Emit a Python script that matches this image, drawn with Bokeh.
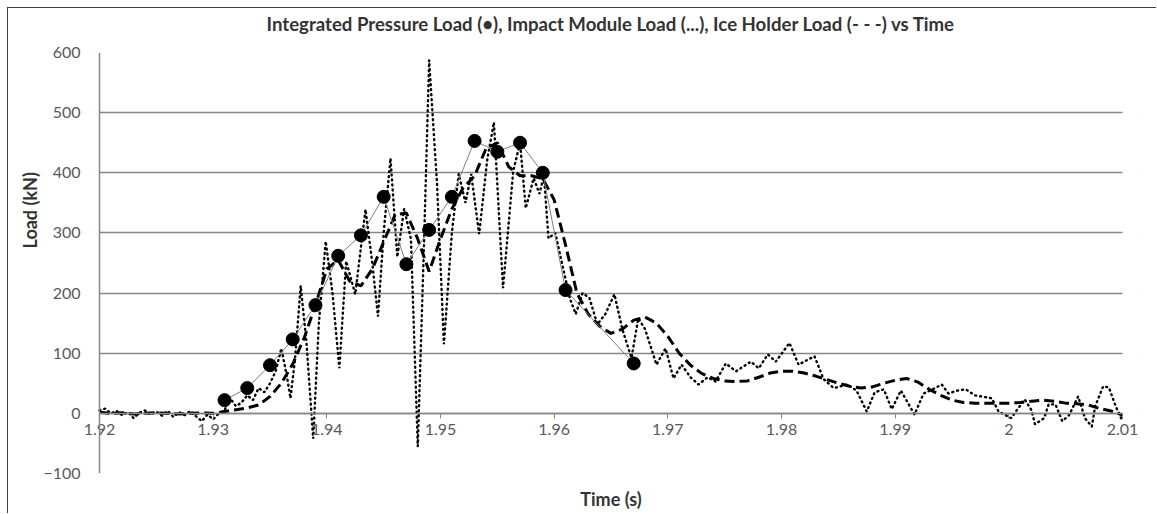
from bokeh.plotting import figure
from bokeh.models import (FixedTicker, CustomJSTickFormatter, Title, Range1d, Span,
                          BoxAnnotation, LinearAxis)
from bokeh.embed import file_html
from bokeh.resources import INLINE

TITLE = "Integrated Pressure Load (\u2022), Impact Module Load (...), Ice Holder Load (- - -) vs Time"
X_LABEL = "Time (s)"
Y_LABEL = "Load (kN)"

x_ticks = [1.92, 1.93, 1.94, 1.95, 1.96, 1.97, 1.98, 1.99, 2.00, 2.01]
y_ticks = [-100, 0, 100, 200, 300, 400, 500, 600]
x_min, x_max = 1.92, 2.01
y_min, y_max = -100, 600

# Integrated pressure load (markers + thin line)
press_t = [1.931, 1.933, 1.935, 1.937, 1.939, 1.941, 1.943, 1.945, 1.947, 1.949,
           1.951, 1.953, 1.955, 1.957, 1.959, 1.961, 1.967]
press_v = [22, 42, 80, 123, 180, 262, 296, 360, 248, 305,
           360, 453, 435, 450, 400, 205, 83]

# Impact module load (dotted)
impact_t = [1.9200, 1.9205, 1.9210, 1.9215, 1.9220, 1.9225, 1.9230, 1.9235, 1.9240, 1.9245,
            1.9250, 1.9255, 1.9260, 1.9265, 1.9270, 1.9275, 1.9280, 1.9285, 1.9290, 1.9295,
            1.9300, 1.9305, 1.9310, 1.9315, 1.9320, 1.9325, 1.9330, 1.9335, 1.9340, 1.9345,
            1.9350, 1.9355, 1.9360, 1.9365, 1.9368, 1.9372, 1.9377, 1.9382, 1.9388, 1.9393,
            1.9399, 1.9405, 1.9411, 1.9417, 1.9425, 1.9434, 1.9440, 1.9445, 1.9450, 1.9456,
            1.9462, 1.9468, 1.9474, 1.9480, 1.9485, 1.9490, 1.9497, 1.9503, 1.9510, 1.9516,
            1.9522, 1.9527, 1.9534, 1.9541, 1.9547, 1.9555, 1.9564, 1.9570, 1.9575, 1.9582,
            1.9587, 1.9591, 1.9595, 1.9601, 1.9608, 1.9614, 1.9619, 1.9625, 1.9631, 1.9638,
            1.9645, 1.9653, 1.9660, 1.9668, 1.9674, 1.9680, 1.9690, 1.9698, 1.9705, 1.9712,
            1.9720, 1.9727, 1.9735, 1.9742, 1.9751, 1.9760, 1.9773, 1.9780, 1.9788, 1.9795,
            1.9807, 1.9815, 1.9829, 1.9837, 1.9846, 1.9858, 1.9866, 1.9875, 1.9882, 1.9890,
            1.9897, 1.9905, 1.9917, 1.9925, 1.9933, 1.9941, 1.9947, 1.9955, 1.9962, 1.9970,
            1.9985, 1.9991, 2.0002, 2.0008, 2.0014, 2.0020, 2.0023, 2.0031, 2.0035, 2.0041,
            2.0047, 2.0053, 2.0061, 2.0067, 2.0073, 2.0076, 2.0083, 2.0088, 2.0094, 2.0100]
impact_v = [5, 8, 0, 4, -3, 2, -8, 1, 5, -2,
            3, -4, 4, -6, 2, -3, 4, -5, -13, -2,
            -10, 0, 5, 25, 12, 18, 30, 22, 42, 35,
            50, 70, 108, 60, 25, 90, 212, 120, -42, 150,
            286, 200, 75, 253, 198, 339, 250, 161, 300, 424,
            260, 340, 290, -55, 250, 587, 380, 115, 300, 398,
            350, 398, 298, 420, 484, 208, 403, 450, 341, 391,
            365, 395, 291, 300, 240, 190, 165, 200, 192, 148,
            165, 198, 140, 92, 158, 140, 81, 108, 58, 81,
            60, 48, 60, 53, 83, 70, 86, 75, 98, 86,
            117, 81, 95, 57, 42, 48, 38, 3, 35, 40,
            7, 38, -2, 33, 40, 48, 33, 38, 40, 30,
            25, 3, -8, 8, 23, 5, -18, -8, 15, 15,
            -13, -3, 28, -8, -22, 12, 45, 43, 12, -13]

# Ice holder load (dashed)
ice_t = [1.920, 1.921, 1.922, 1.923, 1.924, 1.925, 1.926, 1.927, 1.928, 1.929,
         1.930, 1.931, 1.932, 1.933, 1.934, 1.935, 1.936, 1.937, 1.938, 1.939,
         1.940, 1.941, 1.942, 1.943, 1.944, 1.945, 1.946, 1.947, 1.948, 1.949,
         1.950, 1.951, 1.952, 1.953, 1.954, 1.955, 1.956, 1.957, 1.958, 1.959,
         1.960, 1.961, 1.962, 1.963, 1.964, 1.965, 1.966, 1.967, 1.968, 1.969,
         1.970, 1.971, 1.972, 1.973, 1.974, 1.975, 1.976, 1.977, 1.978, 1.979,
         1.980, 1.981, 1.982, 1.983, 1.984, 1.985, 1.986, 1.987, 1.988, 1.989,
         1.990, 1.991, 1.992, 1.993, 1.994, 1.995, 1.996, 1.997, 1.998, 1.999,
         2.000, 2.001, 2.002, 2.003, 2.004, 2.005, 2.006, 2.007, 2.008, 2.009,
         2.010]
ice_v = [2, 0, 1, -1, 0, 1, 0, -1, 0, 1,
         0, 3, 6, 9, 14, 28, 50, 82, 125, 180,
         240, 255, 220, 212, 240, 285, 330, 333, 290, 236,
         290, 340, 375, 395, 440, 450, 410, 395, 395, 390,
         355, 280, 200, 165, 145, 133, 140, 155, 160, 150,
         128, 100, 80, 66, 58, 54, 53, 54, 60, 67,
         70, 70, 67, 62, 56, 50, 45, 42, 44, 50,
         55, 58, 52, 40, 30, 22, 18, 17, 17, 17,
         17, 18, 20, 22, 20, 17, 16, 14, 8, 4,
         -3]

FONT = "Lato"
GRAY = "#868686"
TXT = "#595959"
DARK = "#333333"

# layout: plot area spans page x 99..1122; 18 px of room each side for end tick labels
PAD_PX = 18
px_per_unit = (1122 - 99) / (x_max - x_min)
pad = PAD_PX / px_per_unit

p = figure(width=1149, height=506,
           x_range=Range1d(x_min - pad, x_max + pad), y_range=Range1d(y_min, y_max),
           output_backend="svg", toolbar_location=None, title=None,
           min_border_left=73, min_border_right=17,
           min_border_top=44, min_border_bottom=41)
p.margin = (7, 0, 0, 7)
p.styles = {"border-left": "1px solid #404040", "border-top": "1px solid #404040"}
p.outline_line_color = None
p.background_fill_color = "white"
p.border_fill_color = "white"

# main axes (grab them before any extra axes are added)
xa = p.xaxis[0]
ya = p.yaxis[0]


def label_axis(text, standoff, size):
    return LinearAxis(ticker=FixedTicker(ticks=[]), axis_line_color=None,
                      major_tick_line_color=None, minor_tick_line_color=None,
                      major_tick_out=0, major_tick_in=0, minor_tick_out=0,
                      minor_tick_in=0, major_label_standoff=0,
                      axis_label=text, axis_label_standoff=standoff,
                      axis_label_text_font=FONT, axis_label_text_font_size=size,
                      axis_label_text_font_style="bold", axis_label_text_color=DARK)


# chart title (above) and x title (below), carried by bare axes
p.add_layout(label_axis(TITLE, 18, "18.6px"), "above")
p.add_layout(label_axis(X_LABEL, 14, "18px"), "below")

# grid (horizontal only), hidden outside the plot area
p.xgrid.visible = False
p.ygrid.ticker = FixedTicker(ticks=y_ticks)
p.ygrid.grid_line_color = GRAY
p.ygrid.grid_line_width = 1.5
p.add_layout(BoxAnnotation(left=x_min - 3 * pad, right=x_min, fill_color="white",
                           fill_alpha=1.0, line_color=None, level="underlay"))
p.add_layout(BoxAnnotation(left=x_max, right=x_max + 3 * pad, fill_color="white",
                           fill_alpha=1.0, line_color=None, level="underlay"))
p.add_layout(Span(location=x_min, dimension="height", line_color=GRAY, line_width=1.5))

# x axis crossing at y = 0
xa.ticker = FixedTicker(ticks=x_ticks)
xa.formatter = CustomJSTickFormatter(code="return Number(tick.toFixed(2)).toString();")
xa.fixed_location = 0
xa.bounds = (x_min, x_max)
xa.axis_line_color = GRAY
xa.axis_line_width = 1.5
xa.major_tick_line_color = GRAY
xa.major_tick_out = 5
xa.major_tick_in = 0
xa.minor_tick_line_color = None
xa.major_label_text_font = FONT
xa.major_label_text_font_size = "16px"
xa.major_label_text_color = TXT
xa.major_label_standoff = 6

ya.ticker = FixedTicker(ticks=y_ticks)
ya.axis_line_color = None
ya.major_tick_line_color = None
ya.minor_tick_line_color = None
ya.major_tick_out = 0
ya.minor_tick_out = 0
ya.major_label_text_font = FONT
ya.major_label_text_font_size = "16px"
ya.major_label_text_color = TXT
ya.major_label_standoff = 1
ya.axis_label_standoff = 5

yt = Title(text=Y_LABEL, align="left", offset=225, text_font=FONT, text_font_size="18px",
           text_font_style="bold", text_color=DARK, standoff=0)
p.add_layout(yt, "left")

# data
p.line(ice_t, ice_v, line_color="black", line_width=3, line_dash="10 5")
p.line(impact_t, impact_v, line_color="black", line_width=2.4, line_dash="1 4",
       line_cap="round")
p.line(press_t, press_v, line_color="#7f7f7f", line_width=1)
p.scatter(press_t, press_v, size=13, fill_color="black", line_color="black")

open("out.html", "w").write(file_html(p, INLINE))
